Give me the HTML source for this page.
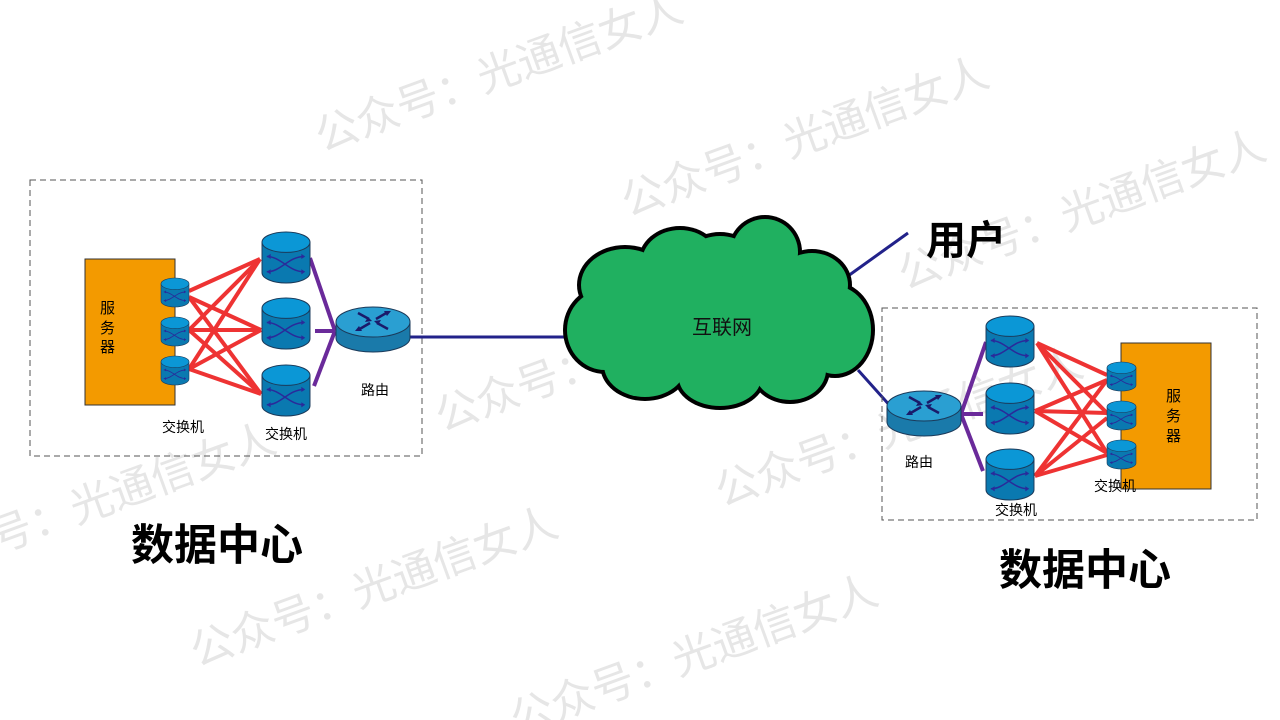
<!DOCTYPE html>
<html><head><meta charset="utf-8"><style>
html,body{margin:0;padding:0;background:#fff;}
svg{display:block;}
text{font-family:"Liberation Sans","Noto Sans CJK SC",sans-serif;}
</style></head><body>
<svg width="1280" height="720" viewBox="0 0 1280 720" xmlns="http://www.w3.org/2000/svg">
<defs>
<g id="cyl">
  <path d="M0,20 L0,80 A50,20 0 0 0 100,80 L100,20 Z" fill="#0a79b0" stroke="#1b3a5a" stroke-width="2"/>
  <ellipse cx="50" cy="20" rx="50" ry="20" fill="#0b97d6" stroke="#1b3a5a" stroke-width="2"/>
  <path d="M10,48 C40,48 55,78 88,78 M10,78 C40,78 55,48 88,48" fill="none" stroke="#2a2a9a" stroke-width="3"/>
  <path d="M10,48 l8,-5 v10z M10,78 l8,-5 v10z M90,48 l-8,-5 v10z M90,78 l-8,-5 v10z" fill="#2a2a9a"/>
</g>
<g id="router">
  <path d="M0,15 L0,31 A37,14 0 0 0 74,31 L74,15 Z" fill="#1a7aaa" stroke="#1b3a5a" stroke-width="1"/>
  <ellipse cx="37" cy="15" rx="37" ry="15" fill="#2a9fd2" stroke="#1b3a5a" stroke-width="1"/>
  <g stroke="#1a1a6a" stroke-width="2.5" fill="#1a1a6a">
    <line x1="22" y1="6" x2="33" y2="12"/><line x1="52" y1="22" x2="41" y2="16"/>
    <line x1="40" y1="12" x2="52" y2="5"/><line x1="34" y1="16" x2="22" y2="23"/>
  </g>
  <path d="M36,14 l-7,1 l3,-5z M38,14 l7,-1 l-3,5z M55,4 l-7,0 l3,5z M19,24 l7,0 l-3,-5z" fill="#1a1a6a"/>
</g>
</defs>

<g fill="#e6e6e6" font-size="43">
<text transform="translate(322,152) rotate(-20)">公众号：光通信女人</text>
<text transform="translate(628,217) rotate(-20)">公众号：光通信女人</text>
<text transform="translate(905,290) rotate(-20)">公众号：光通信女人</text>
<text transform="translate(442,432) rotate(-20)">公众号：光通信女人</text>
<text transform="translate(722,507) rotate(-20)">公众号：光通信女人</text>
<text transform="translate(-85,583) rotate(-20)">公众号：光通信女人</text>
<text transform="translate(197,667) rotate(-20)">公众号：光通信女人</text>
<text transform="translate(517,735) rotate(-20)">公众号：光通信女人</text>
</g>

<rect x="30" y="180" width="392" height="276" fill="none" stroke="#555" stroke-dasharray="6,4"/>
<rect x="85" y="259" width="90" height="146" fill="#f39a00" stroke="#333"/>
<g font-size="15" fill="#000">
<text x="100" y="313">服</text><text x="100" y="333">务</text><text x="100" y="352">器</text>
</g>
<g stroke="#ee3333" stroke-width="4">
<line x1="189" y1="291" x2="260" y2="259"/><line x1="189" y1="297" x2="261" y2="330"/><line x1="189" y1="297" x2="261" y2="394"/>
<line x1="189" y1="330" x2="260" y2="259"/><line x1="189" y1="330" x2="261" y2="330"/><line x1="189" y1="330" x2="261" y2="394"/>
<line x1="189" y1="369" x2="260" y2="259"/><line x1="189" y1="369" x2="261" y2="330"/><line x1="189" y1="369" x2="261" y2="394"/>
</g>
<g stroke="#6a2a9a" stroke-width="4">
<line x1="310" y1="258" x2="335" y2="331"/><line x1="315" y1="331" x2="335" y2="331"/><line x1="314" y1="386" x2="335" y2="331"/>
</g>
<use href="#cyl" transform="translate(161,278) scale(0.28,0.29)"/>
<use href="#cyl" transform="translate(161,317) scale(0.28,0.29)"/>
<use href="#cyl" transform="translate(161,356) scale(0.28,0.29)"/>
<use href="#cyl" transform="translate(262,232) scale(0.48,0.51)"/>
<use href="#cyl" transform="translate(262,298) scale(0.48,0.51)"/>
<use href="#cyl" transform="translate(262,365) scale(0.48,0.51)"/>
<line x1="408" y1="337" x2="566" y2="337" stroke="#22228a" stroke-width="3"/>
<use href="#router" transform="translate(336,307)"/>
<g font-size="14" fill="#000">
<text x="361" y="395">路由</text>
<text x="162" y="432">交换机</text>
<text x="265" y="439">交换机</text>
</g>
<text x="217" y="560" font-size="43" font-weight="bold" text-anchor="middle">数据中心</text>

<line x1="848" y1="276" x2="908" y2="233" stroke="#22228a" stroke-width="3"/>
<line x1="858" y1="370" x2="892" y2="408" stroke="#22228a" stroke-width="3"/>
<g fill="#000">
<ellipse cx="625" cy="285" rx="48" ry="40"/><ellipse cx="680" cy="262" rx="42" ry="36"/><ellipse cx="720" cy="268" rx="42" ry="36"/><circle cx="765" cy="252" r="37"/>
<ellipse cx="812" cy="285" rx="40" ry="36"/><ellipse cx="835" cy="330" rx="40" ry="48"/><ellipse cx="790" cy="370" rx="40" ry="34"/>
<ellipse cx="720" cy="378" rx="45" ry="32"/><ellipse cx="645" cy="365" rx="45" ry="36"/><ellipse cx="605" cy="330" rx="42" ry="44"/>
<rect x="620" y="280" width="200" height="90"/>
</g>
<g fill="#20b060">
<ellipse cx="625" cy="285" rx="44" ry="36"/><ellipse cx="680" cy="262" rx="38" ry="32"/><ellipse cx="720" cy="268" rx="38" ry="32"/><circle cx="765" cy="252" r="33"/>
<ellipse cx="812" cy="285" rx="36" ry="32"/><ellipse cx="835" cy="330" rx="36" ry="44"/><ellipse cx="790" cy="370" rx="36" ry="30"/>
<ellipse cx="720" cy="378" rx="41" ry="28"/><ellipse cx="645" cy="365" rx="41" ry="32"/><ellipse cx="605" cy="330" rx="38" ry="40"/>
<rect x="620" y="280" width="200" height="90"/>
</g>
<text x="722" y="334" font-size="20" text-anchor="middle" fill="#111">互联网</text>
<text x="926" y="254" font-size="40" font-weight="bold">用户</text>

<rect x="882" y="308" width="375" height="212" fill="none" stroke="#555" stroke-dasharray="6,4"/>
<rect x="1121" y="343" width="90" height="146" fill="#f39a00" stroke="#333"/>
<g font-size="15" fill="#000">
<text x="1166" y="401">服</text><text x="1166" y="421">务</text><text x="1166" y="441">器</text>
</g>
<g stroke="#ee3333" stroke-width="4">
<line x1="1037" y1="343" x2="1107" y2="375"/><line x1="1037" y1="343" x2="1107" y2="413"/><line x1="1037" y1="343" x2="1107" y2="453"/>
<line x1="1035" y1="411" x2="1107" y2="380"/><line x1="1035" y1="411" x2="1107" y2="413"/><line x1="1035" y1="411" x2="1107" y2="453"/>
<line x1="1035" y1="476" x2="1107" y2="380"/><line x1="1035" y1="476" x2="1107" y2="418"/><line x1="1035" y1="476" x2="1107" y2="455"/>
</g>
<g stroke="#6a2a9a" stroke-width="4">
<line x1="986" y1="342" x2="961" y2="414"/><line x1="983" y1="414" x2="961" y2="414"/><line x1="983" y1="471" x2="961" y2="414"/>
</g>
<use href="#cyl" transform="translate(986,316) scale(0.48,0.51)"/>
<use href="#cyl" transform="translate(986,383) scale(0.48,0.51)"/>
<use href="#cyl" transform="translate(986,449) scale(0.48,0.51)"/>
<use href="#cyl" transform="translate(1107,362) scale(0.29,0.29)"/>
<use href="#cyl" transform="translate(1107,401) scale(0.29,0.29)"/>
<use href="#cyl" transform="translate(1107,440) scale(0.29,0.29)"/>
<use href="#router" transform="translate(887,391)"/>
<g font-size="14" fill="#000">
<text x="905" y="467">路由</text>
<text x="995" y="515">交换机</text>
<text x="1094" y="491">交换机</text>
</g>
<text x="1085" y="585" font-size="43" font-weight="bold" text-anchor="middle">数据中心</text>
</svg>
</body></html>
